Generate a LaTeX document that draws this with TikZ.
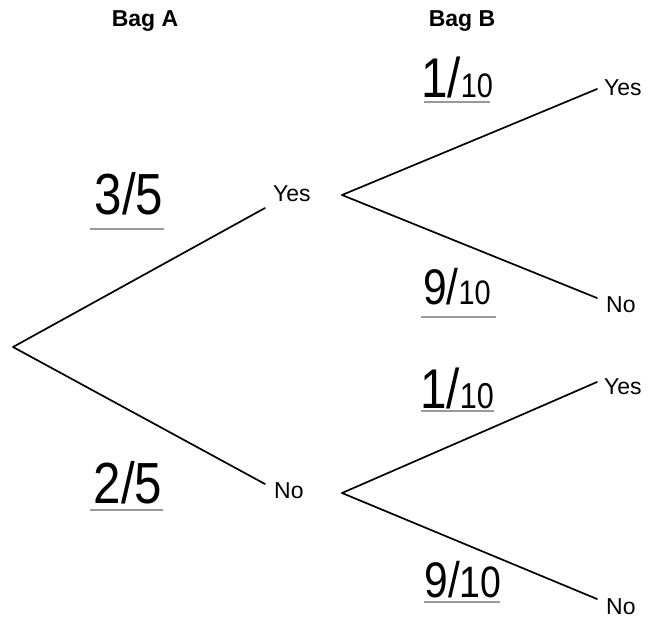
\documentclass[tikz,border=0pt]{standalone}
\usepackage{fontspec}
\setmainfont{Liberation Sans}
\newfontfamily\handfont[FakeStretch=0.85]{Liberation Sans}
\begin{document}
\begin{tikzpicture}[x=1pt,y=-1pt,
  branch/.style={line width=1.7pt,line cap=round},
  outcome/.style={anchor=west,inner sep=0pt,font=\fontsize{23}{23}\selectfont},
  head/.style={inner sep=0pt,font=\bfseries\fontsize{23}{23}\selectfont},
  hand/.style={inner sep=0pt,font=\handfont\fontsize{58}{58}\selectfont},
  handten/.style={inner sep=0pt,font=\handfont},
  uline/.style={line width=1.4pt,draw=black!40}]
\useasboundingbox[fill=white] (0,0) rectangle (648,630);
% headings
\node[head] (bagA) at (145,21) {Bag A};
\node[head] (bagB) at (462,21) {Bag B};
% branch points
\coordinate (root) at (13,347);
\coordinate (a1) at (265,208);
\coordinate (a2) at (265,484);
\coordinate (s1) at (342,195);
\coordinate (s2) at (342,493);
\coordinate (b1) at (597,89);
\coordinate (b2) at (597,298);
\coordinate (b3) at (597,382);
\coordinate (b4) at (597,599);
% outcome labels
\node[outcome] (yesA) at (273,194) {Yes};
\node[outcome] (noA) at (274,491) {No};
\node[outcome] (yes1) at (604,88) {Yes};
\node[outcome] (no1) at (606,305) {No};
\node[outcome] (yes2) at (604,387) {Yes};
\node[outcome] (no2) at (606,607) {No};
% branches
\draw[branch] (root) -- (a1);
\draw[branch] (root) -- (a2);
\draw[branch] (s1) -- (b1);
\draw[branch] (s1) -- (b2);
\draw[branch] (s2) -- (b3);
\draw[branch] (s2) -- (b4);
% handwritten probabilities
\node[hand,anchor=base] (p35) at (129,214) {3/5};
\node[hand,anchor=base] (p25) at (128,503) {2/5};
\node[handten,anchor=base] (p110a) at (457,97) {{\fontsize{56}{56}\selectfont 1/}{\fontsize{34}{34}\selectfont 10}};
\node[handten,anchor=base] (p910a) at (457,304) {{\fontsize{50}{50}\selectfont 9/}{\fontsize{34}{34}\selectfont 10}};
\node[handten,anchor=base] (p110b) at (457,408) {{\fontsize{56}{56}\selectfont 1/}{\fontsize{36}{36}\selectfont 10}};
\node[handten,anchor=base] (p910b) at (463,597) {{\fontsize{50}{50}\selectfont 9/}{\fontsize{44}{44}\selectfont 10}};
% underlines
\draw[uline] (90,229) -- (164,229);
\draw[uline] (90,510) -- (163,510);
\draw[uline] (424,102) -- (490,102);
\draw[uline] (421,317) -- (496,317);
\draw[uline] (421,411) -- (494,411);
\draw[uline] (424,602) -- (500,602);
\end{tikzpicture}
\end{document}
